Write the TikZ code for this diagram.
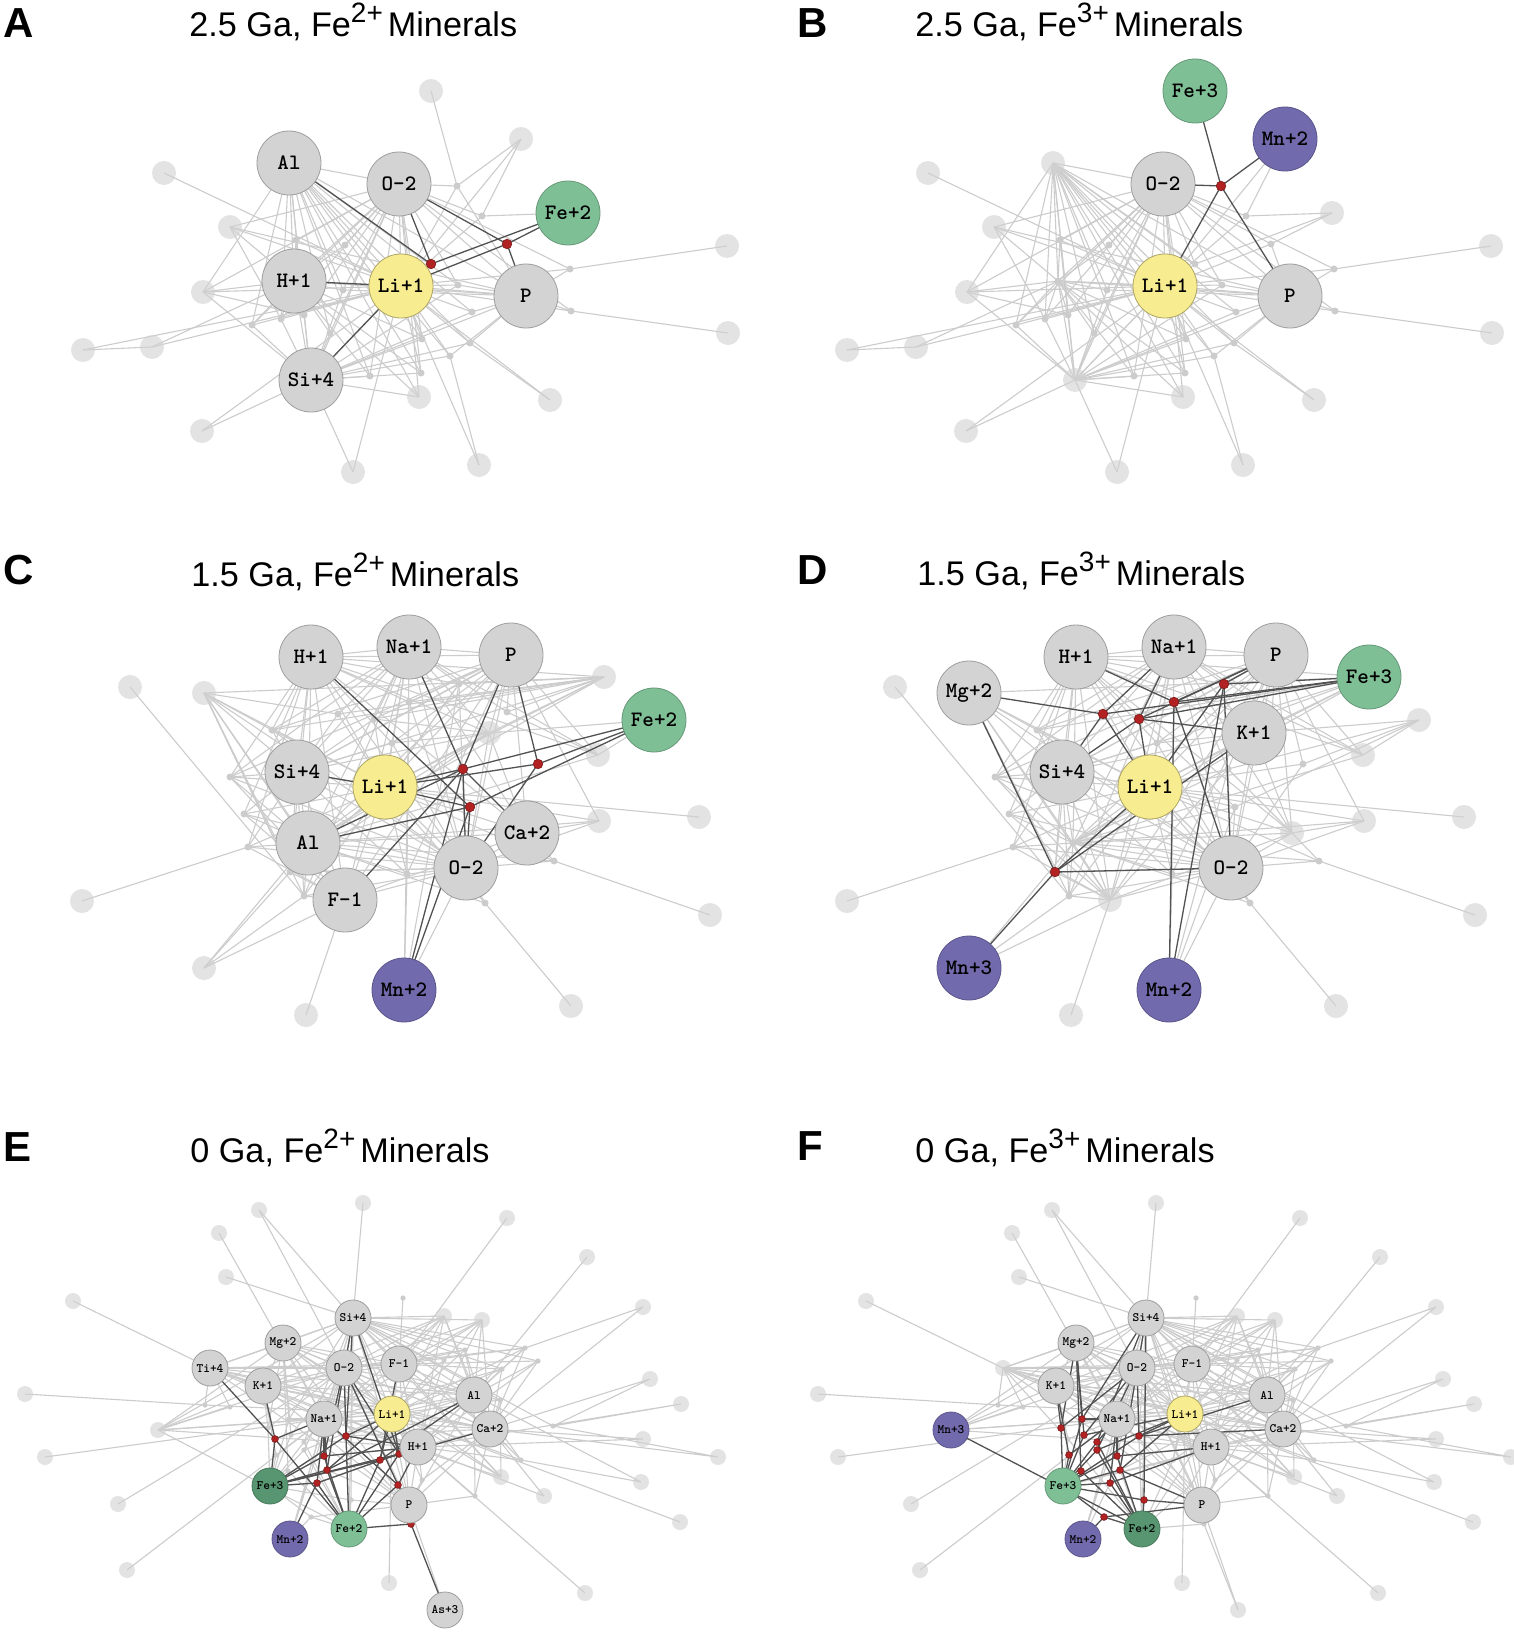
\documentclass[tikz,border=0pt]{standalone}
\usepackage{fontspec}
\setmainfont{Liberation Sans}
\definecolor{ngray}{HTML}{D3D3D3}
\definecolor{nyel}{HTML}{F8EC91}
\definecolor{ngreen}{HTML}{7FBF96}
\definecolor{ndgreen}{HTML}{579670}
\definecolor{npurp}{HTML}{716BAE}
\definecolor{nred}{HTML}{B22222}
\newcommand\lblA{\ttfamily\bfseries\fontsize{11}{11}\selectfont}
\newcommand\lblE{\ttfamily\bfseries\fontsize{6.4}{6.4}\selectfont}
\newcommand\supx[1]{\raisebox{7pt}{\fontsize{14}{14}\selectfont #1}}
\newcommand\fan[3]{\foreach \b in {#3}{\draw[#1] (#2) -- (\b);}}
\newcommand\allpairs[1]{\foreach \a [count=\i] in {#1}{\foreach \b [count=\j] in {#1}{\ifnum\j>\i\relax\draw[web] (\a) -- (\b);\fi}}}
\tikzset{
  web/.style={draw=black!20, line width=0.55pt},
  dk/.style={draw=black!68, line width=0.65pt},
  nd/.style={circle, inner sep=0pt, line width=0.4pt},
  gA/.style={nd, minimum size=32pt, draw=black!38, fill=ngray, font=\lblA},
  yA/.style={gA, fill=nyel, draw=nyel!70!black},
  lgA/.style={gA, fill=ngreen, draw=ngreen!80!black},
  puA/.style={gA, fill=npurp, draw=npurp!80!black},
  gE/.style={nd, minimum size=18pt, draw=black!38, fill=ngray, font=\lblE},
  yE/.style={gE, fill=nyel, draw=nyel!70!black},
  lgE/.style={gE, fill=ngreen, draw=ngreen!80!black},
  dgE/.style={gE, fill=ndgreen, draw=ndgreen!80!black},
  puE/.style={gE, fill=npurp, draw=npurp!80!black},
  pe/.style={circle, inner sep=0pt, minimum size=12pt, fill=black!18, fill opacity=0.6},
  peE/.style={pe, minimum size=8pt},
  sd/.style={circle, inner sep=0pt, minimum size=3.5pt, fill=black!20},
  sdE/.style={sd, minimum size=2.6pt},
  rd/.style={circle, inner sep=0pt, minimum size=4.8pt, fill=nred, draw=nred!70!black, line width=0.3pt},
  rdE/.style={rd, minimum size=3.4pt},
  ttl/.style={anchor=base west, inner sep=0pt, font=\fontsize{17.1}{20}\selectfont},
  plet/.style={anchor=base west, inner sep=0pt, font=\fontsize{21}{22}\selectfont\bfseries},
}
% ---------------- layout A/B ----------------
\newcommand\layAB{%
\foreach \n/\x/\y in {Al/289/163, O2/399/184, FeII/568/213, H1/294/281, Li/401/286, P/526/296, Si/311/380, FeIII/431/91, MnII/521/139,
q1/164/173, q2/230/227, q3/203/292, q4/727/246, q5/728/333, q6/83/350, q7/152/347, q8/419/397, q9/550/400, q10/202/431, q11/353/472, q12/479/465,
s1/457/186, s2/482/216, s3/570/269, s4/571/311, s5/472/312, s6/470/343, s7/450/356, s8/422/339, s9/421/373, s10/370/376, s11/252/325, s12/281/319, s13/304/315, s14/343/290, s15/330/333, s16/458/285, s17/296/240, s18/345/245, s19/431/264, s20/507/244}
{\coordinate (\n) at (\x,\y);}}
\newcommand\webAB{%
\allpairs{Al,O2,H1,Li,P,Si}
\fan{web}{Al}{s8,s9,s10,s11,s12,s13,s14,s15,s16,s5,s6,s7,q8,q3}
\fan{web}{O2}{s2,q2,q3,s14,s13,s12,s15,s10,s8,s16,s4,s3,q8,s11,s17,s18,s9}
\fan{web}{H1}{q3,s11,s12,s13,s14,s15,q8,s10,q2,s18,s17,s8,s9}
\fan{web}{Li}{q1,q2,q3,q6,q7,q9,q10,q11,q12,s2,s4,s5,s6,s7,s8,s9,s16,s3,MnII,s17,s11,s12}
\fan{web}{P}{q2,s3,s4,s5,s16,s6,s7,s14}
\fan{web}{Si}{q8,s8,s9,s10,s6,s7,s5,s16,q3,s11,s12,q10,q11,s15,s14,s17}
\fan{web}{s2}{MnII,FeII}
\draw[web] (q4)--(s3) (q5)--(s4) (q7)--(H1) (q9)--(s6) (q12)--(s7) (q6)--(q7) (q2)--(s12) (q3)--(s13);}
\newcommand\edgesA[1]{\fan{#1}{s19}{Al,O2,FeII,Li}\fan{#1}{s20}{O2,P,FeII,Li}\draw[#1] (H1)--(Li) (Si)--(Li);}
\newcommand\edgesB[1]{\fan{#1}{s1}{FeIII,MnII,O2,Li,P}}
% ---------------- layout C/D ----------------
\newcommand\layCD{%
\foreach \n/\x/\y in {H1/311/657, Na1/409/647, P/511/655, FeII/654/720, Si4/297/772, Li/385/787, Al/308/843, Ca2/527/833, O2/466/868, F1/345/900, MnII/404/990, FeIII/604/677, Mg2/204/693, K1/489/733, MnIII/204/968,
t1/130/687, t2/598/755, t3/599/821, t4/699/817, t5/82/901, t6/710/915, t7/306/1015, t8/571/1006,
u1/230/777, u2/244/814, u3/248/847, u4/554/861, u5/485/903, u6/304/896, u8/407/874, u11/507/712, u12/392/743, u13/272/730,
m1/463/769, m2/538/764, m3/470/807, n1/459/684, n2/409/702, n3/338/714, n4/374/719, n5/290/872}
{\coordinate (\n) at (\x,\y);}}
\newcommand\webCD{%
\allpairs{H1,Na1,P,Si4,Li,Al,O2,F1}
\fan{web}{H1}{u1,u2,u3,n5,u12,u13,t2,K1,n1,Ca2,FeIII}
\fan{web}{Na1}{n1,u11,u12,u13,u1,u8,Ca2,t2,u6,K1}
\fan{web}{P}{n1,u11,t2,u12,u1,u13,K1,Ca2,u8,t3}
\fan{web}{Si4}{u1,u2,u3,u6,n5,u8,K1,u12,n1,u13}
\fan{web}{Li}{u1,u2,u3,u4,u5,u6,n5,u8,t3,t4,n1,u12,Ca2,K1,u13}
\fan{web}{Al}{u1,u2,u3,u6,n5,u8,MnIII,K1,Ca2,u4,t3,t2}
\fan{web}{O2}{u4,u5,u6,n5,u8,t3,Ca2,K1,u2,u3,MnII,u12,u1,u13}
\fan{web}{F1}{u6,n5,t7,MnIII,u2,u3,Ca2,u1}
\fan{web}{Mg2}{Li,Al,O2,FeIII,Si4,n5,u13,F1,u6}
\fan{web}{FeIII}{Al,u13,Si4,u11,Li,K1}
\draw[web] (K1)--(Ca2) (K1)--(u12) (Ca2)--(t3) (Ca2)--(u4) (t1)--(u6) (t5)--(u3) (t6)--(u4) (t8)--(u5) (u5)--(Al) (MnIII)--(u6) (MnII)--(u8) (FeII)--(K1) (FeII)--(t2) (t2)--(u11);}
\newcommand\edgesC[1]{\fan{#1}{m1}{Na1,P,FeII,Li,Al,O2,MnII,F1,Ca2}\fan{#1}{m2}{P,FeII,Li,O2}\fan{#1}{m3}{H1,FeII,Li,Al,O2,MnII}\draw[#1] (Si4)--(Li);}
\newcommand\edgesD[1]{\fan{#1}{n1}{FeIII,MnII,Li,O2,P}\fan{#1}{n2}{H1,FeIII,P,O2,MnII}\fan{#1}{n3}{Mg2,FeIII,Na1,Si4,Li}\fan{#1}{n4}{Na1,K1,FeIII,Si4,Li,P}\fan{#1}{n5}{Mg2,MnIII,Li,K1,O2}}
% ---------------- layout E/F ----------------
\newcommand\layEF{%
\foreach \n/\x/\y in {Si4/353/1318, Mg2/283/1343, Ti4/210/1368, O2/344/1368, F1/399/1364, K1/263/1386, Al/474/1395, Na1/324/1419, Li/392/1414, Ca2/490/1429, H1/418/1447, FeIII/270/1486, P/409/1505, FeII/349/1529, MnII/290/1539, As3/445/1610, MnIII/158/1430,
v1/363/1203, v2/259/1210, v3/507/1218, v4/219/1233, v5/587/1257, v6/226/1277, v7/73/1301, v8/643/1307, v9/444/1316, v10/482/1320, v11/650/1379, v12/25/1394, v13/681/1404, v14/643/1439, v15/45/1457, v16/718/1457, v17/501/1477, v18/641/1482, v19/544/1496, v20/118/1504, v21/680/1522, v22/127/1570, v23/389/1583, v24/585/1593,
w1/403/1298, w2/525/1348, w3/538/1361, w4/502/1369, w5/465/1350, w6/205/1405, w7/230/1407, w8/553/1426, w9/521/1460, w10/475/1496, w11/422/1480, w12/500/1400, w13/444/1360,
e1/275/1439, e2/346/1436, e3/324/1456, e4/327/1470, e5/317/1483, e6/380/1460, e7/399/1454, e8/398/1485, e9/411/1524,
f1/268/1428, f2/289/1419, f3/291/1435, f4/304/1442, f5/304/1450, f6/276/1455, f9/288/1471, f12/351/1500, f13/311/1517}
{\coordinate (\n) at (\x,\y);}}
\newcommand\webEF{%
\allpairs{Si4,Mg2,O2,F1,K1,Na1,Li,H1,Al,Ca2,P,Ti4}
\fan{web}{Si4}{v1,v2,v6,v9,v10,w2,w3,w4,w5,w13,w12,w8,v17,MnII,FeII}
\fan{web}{MnIII}{Na1,Li,Mg2,K1,Si4,H1,O2,w7}
\fan{web}{v9}{F1,Al,Li,Ca2,H1,O2,Na1,K1}
\fan{web}{v10}{Al,Li,Ca2,H1,F1,Na1,O2}
\fan{web}{v17}{O2,Mg2,F1,Na1,w12}
\fan{web}{w2}{Al,Li,Ca2,H1,F1,O2}
\fan{web}{w3}{Al,Ca2,H1,F1}
\fan{web}{w4}{Li,F1,Al,Ca2,H1,Na1}
\fan{web}{w5}{F1,Al,Li,Ca2,O2}
\fan{web}{w9}{Ca2,H1,Al,Li}
\fan{web}{w10}{H1,Ca2,Al,P}
\fan{web}{w11}{P,H1,Li,Ca2}
\fan{web}{w12}{Ca2,Al,Li}
\fan{web}{w13}{Li,H1}
\fan{web}{Ti4}{v7,w6,w7,K1}
\draw[web] (v3)--(F1) (v5)--(Al) (v4)--(Na1) (v2)--(O2) (v8)--(w2) (v8)--(Ca2) (v11)--(Ca2) (v11)--(w8) (v13)--(w8) (v13)--(H1) (v14)--(Ca2) (v14)--(H1) (v12)--(w6) (w6)--(Li) (v15)--(Na1) (v16)--(Ca2) (v16)--(w8) (v18)--(w9) (v18)--(Al) (v19)--(Ca2) (v19)--(H1) (v20)--(O2) (v21)--(Li) (v22)--(Na1) (v23)--(Li) (v24)--(H1) (w1)--(F1) (MnII)--(Na1) (MnII)--(O2) (FeII)--(O2) (As3)--(P);}
\newcommand\edgesE[1]{%
\fan{#1}{e1}{Ti4,K1,FeII,FeIII,Na1}
\fan{#1}{e2}{Si4,O2,Li,FeIII,FeII,H1}
\fan{#1}{e3}{Na1,O2,FeIII,FeII,H1}
\fan{#1}{e4}{Na1,Si4,FeIII,FeII,Li,Al}
\fan{#1}{e5}{Na1,FeIII,FeII,H1,MnII}
\fan{#1}{e6}{Li,F1,FeIII,FeII,Ca2,Al}
\fan{#1}{e7}{H1,Li,O2,FeII,FeIII,Si4}
\fan{#1}{e8}{H1,Na1,O2,FeII,P}
\fan{#1}{e9}{P,FeII,As3}}
\newcommand\edgesF[1]{%
\fan{#1}{f1}{K1,Mg2,FeIII,O2}
\fan{#1}{f2}{Mg2,Si4,FeIII,Na1}
\fan{#1}{f3}{Mg2,O2,FeIII,Li}
\fan{#1}{f4}{Si4,Na1,FeIII,FeII}
\fan{#1}{f5}{O2,FeIII,Li,FeII}
\fan{#1}{f6}{K1,FeIII,Na1}
\fan{#1}{e3}{Na1,FeIII,H1,FeII}
\fan{#1}{e4}{FeIII,Si4,Li,P}
\fan{#1}{f9}{FeIII,Mg2,FeII}
\fan{#1}{e5}{FeIII,FeII,Na1,H1}
\fan{#1}{e2}{Li,FeIII,O2,Ca2,Al}
\fan{#1}{f12}{FeIII,P,FeII,Si4}
\fan{#1}{f13}{FeIII,MnII,FeII,P}
\draw[#1] (MnIII)--(FeII);}
\begin{document}
\begin{tikzpicture}[x=0.5pt, y=-0.5pt]
\fill[white] (0,0) rectangle (1514,1632);
\useasboundingbox (0,0) rectangle (1514,1632);
% titles
\node[plet] (LA) at (3,38) {A};
\node[ttl] (TA) at (189,37) {2.5 Ga, Fe\supx{2+}\hspace{2.5pt}Minerals};
\node[plet] (LB) at (797,38) {B};
\node[ttl] (TB) at (915,37) {2.5 Ga, Fe\supx{3+}\hspace{2.5pt}Minerals};
\node[plet] (LC) at (3,584) {C};
\node[ttl] (TC) at (191,586) {1.5 Ga, Fe\supx{2+}\hspace{2.5pt}Minerals};
\node[plet] (LD) at (797,584) {D};
\node[ttl] (TD) at (917,585) {1.5 Ga, Fe\supx{3+}\hspace{2.5pt}Minerals};
\node[plet] (LE) at (3,1161) {E};
\node[ttl] (TE) at (190,1162) {0 Ga, Fe\supx{2+}\hspace{2.5pt}Minerals};
\node[plet] (LF) at (797,1160) {F};
\node[ttl] (TF) at (915,1162) {0 Ga, Fe\supx{3+}\hspace{2.5pt}Minerals};
% ---------------- Panel A ----------------
\begin{scope}[name prefix=A-]
\layAB \webAB \edgesB{web}
\foreach \p in {q1,q2,q3,q4,q5,q6,q7,q8,q9,q10,q11,q12,FeIII,MnII} \node[pe] (\p-n) at (\p) {};
\foreach \p in {s1,s2,s3,s4,s5,s6,s7,s8,s9,s10,s11,s12,s13,s14,s15,s16,s17,s18} \node[sd] (\p-n) at (\p) {};
\edgesA{dk}
\foreach \p in {s19,s20} \node[rd] (\p-r) at (\p) {};
\node[gA] (Al-n) at (Al) {Al};
\node[gA] (O2-n) at (O2) {O-2};
\node[gA] (H1-n) at (H1) {H+1};
\node[gA] (P-n) at (P) {P};
\node[gA] (Si-n) at (Si) {Si+4};
\node[yA] (Li-n) at (Li) {Li+1};
\node[lgA] (FeII-n) at (FeII) {Fe+2};
\end{scope}
% ---------------- Panel B ----------------
\begin{scope}[shift={(764,0)}, name prefix=B-]
\layAB \webAB \edgesA{web}
\foreach \p in {q1,q2,q3,q4,q5,q6,q7,q8,q9,q10,q11,q12,Al,Si,FeII} \node[pe] (\p-n) at (\p) {};
\foreach \p in {s2,s3,s4,s5,s6,s7,s8,s9,s10,s11,s12,s13,s14,s15,s16,s17,s18,s19,s20,H1} \node[sd] (\p-n) at (\p) {};
\edgesB{dk}
\node[rd] (s1-r) at (s1) {};
\node[gA] (O2-n) at (O2) {O-2};
\node[gA] (P-n) at (P) {P};
\node[yA] (Li-n) at (Li) {Li+1};
\node[lgA] (FeIII-n) at (FeIII) {Fe+3};
\node[puA] (MnII-n) at (MnII) {Mn+2};
\end{scope}
% ---------------- Panel C ----------------
\begin{scope}[name prefix=C-]
\layCD \webCD \edgesD{web}
\foreach \p in {t1,t2,t3,t4,t5,t6,t7,t8,FeIII,Mg2,K1,MnIII} \node[pe] (\p-n) at (\p) {};
\foreach \p in {u1,u2,u3,u4,u5,u6,u8,u11,u12,u13,n1,n2,n3,n4,n5} \node[sd] (\p-n) at (\p) {};
\edgesC{dk}
\foreach \p in {m1,m2,m3} \node[rd] (\p-r) at (\p) {};
\node[gA] (H1-n) at (H1) {H+1};
\node[gA] (Na1-n) at (Na1) {Na+1};
\node[gA] (P-n) at (P) {P};
\node[gA] (Si4-n) at (Si4) {Si+4};
\node[gA] (Al-n) at (Al) {Al};
\node[gA] (Ca2-n) at (Ca2) {Ca+2};
\node[gA] (O2-n) at (O2) {O-2};
\node[gA] (F1-n) at (F1) {F-1};
\node[yA] (Li-n) at (Li) {Li+1};
\node[lgA] (FeII-n) at (FeII) {Fe+2};
\node[puA] (MnII-n) at (MnII) {Mn+2};
\end{scope}
% ---------------- Panel D ----------------
\begin{scope}[shift={(765,0)}, name prefix=D-]
\layCD \webCD \edgesC{web}
\foreach \p in {t1,t2,t3,t4,t5,t6,t7,t8,FeII,Ca2,F1} \node[pe] (\p-n) at (\p) {};
\foreach \p in {u1,u2,u3,u4,u5,u6,u8,u11,u12,u13,m1,m2,m3,Al} \node[sd] (\p-n) at (\p) {};
\edgesD{dk}
\foreach \p in {n1,n2,n3,n4,n5} \node[rd] (\p-r) at (\p) {};
\node[gA] (H1-n) at (H1) {H+1};
\node[gA] (Na1-n) at (Na1) {Na+1};
\node[gA] (P-n) at (P) {P};
\node[gA] (Mg2-n) at (Mg2) {Mg+2};
\node[gA] (K1-n) at (K1) {K+1};
\node[gA] (Si4-n) at (Si4) {Si+4};
\node[gA] (O2-n) at (O2) {O-2};
\node[yA] (Li-n) at (Li) {Li+1};
\node[lgA] (FeIII-n) at (FeIII) {Fe+3};
\node[puA] (MnII-n) at (MnII) {Mn+2};
\node[puA] (MnIII-n) at (MnIII) {Mn+3};
\end{scope}
% ---------------- Panel E ----------------
\begin{scope}[name prefix=E-]
\layEF \webEF \edgesF{web}
\foreach \p in {v1,v2,v3,v4,v5,v6,v7,v8,v9,v10,v11,v12,v13,v14,v15,v16,v17,v18,v19,v20,v21,v22,v23,v24,MnIII} \node[peE] (\p-n) at (\p) {};
\foreach \p in {w1,w2,w3,w4,w5,w6,w7,w8,w9,w10,w11,w12,w13,f1,f2,f3,f4,f5,f6,f9,f12,f13} \node[sdE] (\p-n) at (\p) {};
\edgesE{dk}
\foreach \p in {e1,e2,e3,e4,e5,e6,e7,e8,e9} \node[rdE] (\p-r) at (\p) {};
\node[gE] (Si4-n) at (Si4) {Si+4};
\node[gE] (Mg2-n) at (Mg2) {Mg+2};
\node[gE] (Ti4-n) at (Ti4) {Ti+4};
\node[gE] (O2-n) at (O2) {O-2};
\node[gE] (F1-n) at (F1) {F-1};
\node[gE] (K1-n) at (K1) {K+1};
\node[gE] (Al-n) at (Al) {Al};
\node[gE] (Na1-n) at (Na1) {Na+1};
\node[gE] (Ca2-n) at (Ca2) {Ca+2};
\node[gE] (H1-n) at (H1) {H+1};
\node[gE] (P-n) at (P) {P};
\node[gE] (As3-n) at (As3) {As+3};
\node[yE] (Li-n) at (Li) {Li+1};
\node[dgE] (FeIII-n) at (FeIII) {Fe+3};
\node[lgE] (FeII-n) at (FeII) {Fe+2};
\node[puE] (MnII-n) at (MnII) {Mn+2};
\end{scope}
% ---------------- Panel F ----------------
\begin{scope}[shift={(793,0)}, name prefix=F-]
\layEF \webEF \edgesE{web}
\foreach \p in {v1,v2,v3,v4,v5,v6,v7,v8,v9,v10,v11,v12,v13,v14,v15,v16,v17,v18,v19,v20,v21,v22,v23,v24,Ti4,As3} \node[peE] (\p-n) at (\p) {};
\foreach \p in {w1,w2,w3,w4,w5,w6,w7,w8,w9,w10,w11,w12,w13,e1,e6,e7,e8,e9} \node[sdE] (\p-n) at (\p) {};
\edgesF{dk}
\foreach \p in {f1,f2,f3,f4,f5,f6,e3,e4,f9,e5,e2,f12,f13} \node[rdE] (\p-r) at (\p) {};
\node[gE] (Si4-n) at (Si4) {Si+4};
\node[gE] (Mg2-n) at (Mg2) {Mg+2};
\node[gE] (O2-n) at (O2) {O-2};
\node[gE] (F1-n) at (F1) {F-1};
\node[gE] (K1-n) at (K1) {K+1};
\node[gE] (Al-n) at (Al) {Al};
\node[gE] (Na1-n) at (Na1) {Na+1};
\node[gE] (Ca2-n) at (Ca2) {Ca+2};
\node[gE] (H1-n) at (H1) {H+1};
\node[gE] (P-n) at (P) {P};
\node[yE] (Li-n) at (Li) {Li+1};
\node[lgE] (FeIII-n) at (FeIII) {Fe+3};
\node[dgE] (FeII-n) at (FeII) {Fe+2};
\node[puE] (MnII-n) at (MnII) {Mn+2};
\node[puE] (MnIII-n) at (MnIII) {Mn+3};
\end{scope}
\end{tikzpicture}
\end{document}
